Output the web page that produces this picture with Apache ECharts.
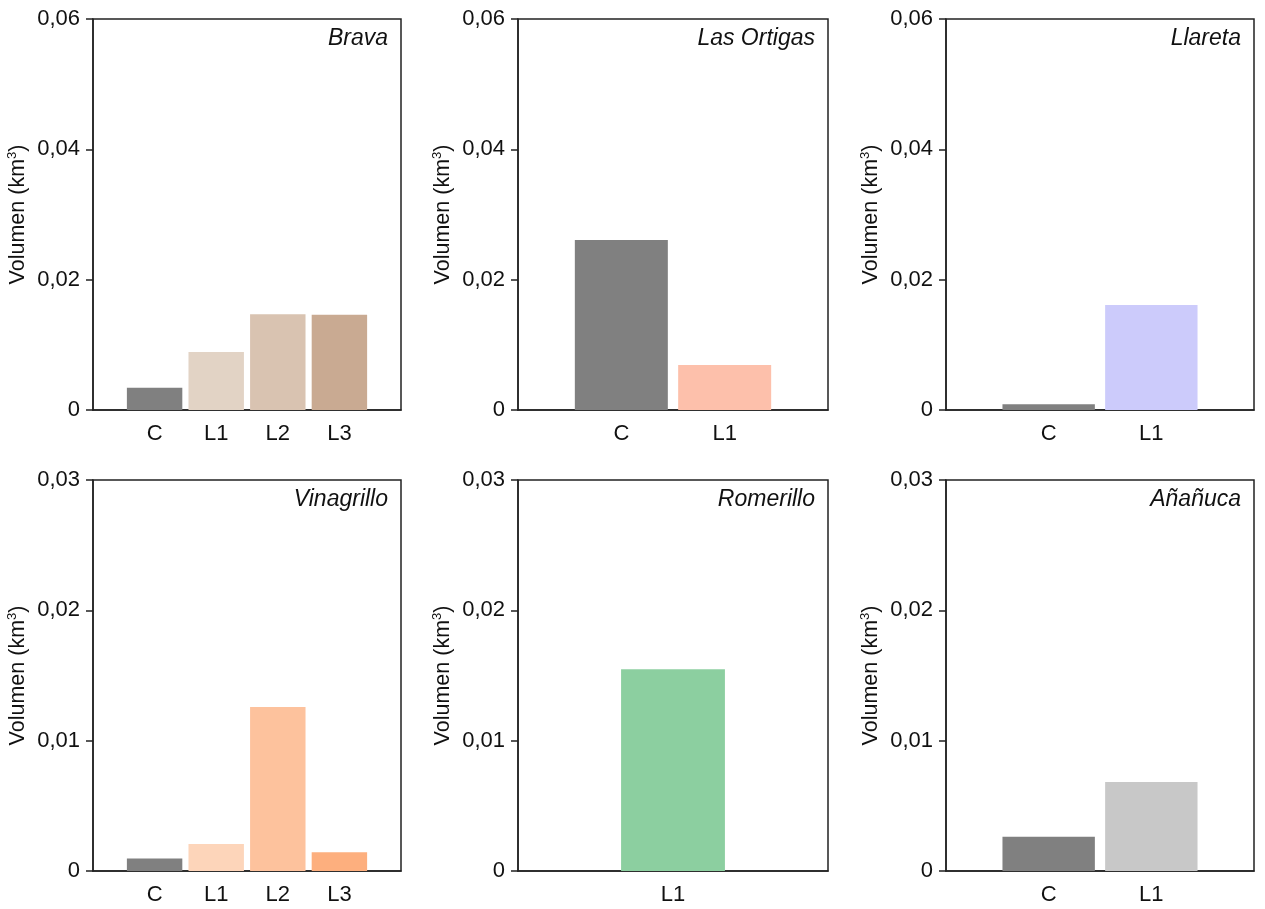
<!DOCTYPE html>
<html>
<head>
<meta charset="utf-8">
<title>Volumen por sitio</title>
<script src="https://cdn.jsdelivr.net/npm/echarts@6/dist/echarts.min.js"></script>
<style>
  html, body { margin: 0; padding: 0; background: #fff; }
  #chart { width: 1265px; height: 909px; }
</style>
</head>
<body>
<div id="chart"></div>
<script>
// Volumes (km³) per site and unit
const bravaCats = ['C', 'L1', 'L2', 'L3'];
const bravaVals = [0.0034, 0.0089, 0.0147, 0.0146];

const ortigasCats = ['C', 'L1'];
const ortigasVals = [0.0261, 0.0069];

const llaretaCats = ['C', 'L1'];
const llaretaVals = [0.0009, 0.0161];

const vinagrilloCats = ['C', 'L1', 'L2', 'L3'];
const vinagrilloVals = [0.00095, 0.00207, 0.01258, 0.00143];

const romerilloCats = ['L1'];
const romerilloVals = [0.01548];

const ananucaCats = ['C', 'L1'];
const ananucaVals = [0.00263, 0.00683];

const topTicks = [0, 0.02, 0.04, 0.06];
const bottomTicks = [0, 0.01, 0.02, 0.03];

// Bar fills per site
const bravaColors = ['#808080', '#e2d3c5', '#d9c3b1', '#c9aa92'];
const ortigasColors = ['#808080', '#fdc0ab'];
const llaretaColors = ['#808080', '#cccbfb'];
const vinagrilloColors = ['#808080', '#fdd5ba', '#fdc29d', '#fdaf7e'];
const romerilloColors = ['#8ccfa0'];
const ananucaColors = ['#808080', '#c8c8c8'];

const FONT = '"Liberation Sans", Arial, sans-serif';
const INK = '#111';

const panels = [
  { name: 'Brava',       cats: bravaCats,      vals: bravaVals,      colors: bravaColors,      ticks: topTicks,    col: 0, row: 0, bw: '90%' },
  { name: 'Las Ortigas', cats: ortigasCats,    vals: ortigasVals,    colors: ortigasColors,    ticks: topTicks,    col: 1, row: 0, bw: '90%' },
  { name: 'Llareta',     cats: llaretaCats,    vals: llaretaVals,    colors: llaretaColors,    ticks: topTicks,    col: 2, row: 0, bw: '90%' },
  { name: 'Vinagrillo',  cats: vinagrilloCats, vals: vinagrilloVals, colors: vinagrilloColors, ticks: bottomTicks, col: 0, row: 1, bw: '90%' },
  { name: 'Romerillo',   cats: romerilloCats,  vals: romerilloVals,  colors: romerilloColors,  ticks: bottomTicks, col: 1, row: 1, bw: '67%' },
  { name: 'Añañuca',     cats: ananucaCats,    vals: ananucaVals,    colors: ananucaColors,    ticks: bottomTicks, col: 2, row: 1, bw: '90%' }
];

const colLeft = [93, 518, 946];
const colWidth = [308, 310, 308];
const rowTop = [19, 480];
const plotHeight = 391;
const pageWidth = 1265;

const grids = [], xAxes = [], yAxes = [], series = [], titles = [];

panels.forEach((p, i) => {
  const left = colLeft[p.col];
  const width = colWidth[p.col];
  const top = rowTop[p.row];

  grids.push({
    left: left, top: top, width: width, height: plotHeight,
    show: true, borderColor: '#222', borderWidth: 1.5, backgroundColor: 'transparent'
  });

  // one empty slot either side of the categories
  const padded = [''].concat(p.cats, ['']);
  xAxes.push({
    type: 'category', gridIndex: i, data: padded, boundaryGap: false,
    axisLine: { show: true, lineStyle: { color: '#222', width: 1.5 } },
    axisTick: { show: false },
    axisLabel: { interval: 0, margin: 13, fontSize: 22, color: INK, fontFamily: FONT },
    splitLine: { show: false }
  });

  const step = p.ticks[1] - p.ticks[0];
  yAxes.push({
    type: 'value', gridIndex: i,
    min: p.ticks[0], max: p.ticks[p.ticks.length - 1], interval: step,
    name: 'Volumen (km{sup|3})', nameLocation: 'middle', nameGap: 63,
    nameTextStyle: {
      fontSize: 21.5, color: INK, fontFamily: FONT, lineHeight: 24,
      rich: { sup: { fontSize: 13, lineHeight: 14, verticalAlign: 'top', color: INK, fontFamily: FONT } }
    },
    axisLine: { show: true, lineStyle: { color: '#222', width: 1.5 } },
    axisTick: { show: true, inside: false, length: 7, lineStyle: { color: '#222', width: 1.5 } },
    axisLabel: {
      margin: 13, fontSize: 22, color: INK, fontFamily: FONT,
      formatter: v => (v === 0 ? '0' : v.toFixed(2).replace('.', ','))
    },
    splitLine: { show: false }
  });

  const data = [null].concat(p.vals.map((v, k) => ({ value: v, itemStyle: { color: p.colors[k] } })), [null]);
  series.push({
    type: 'bar', xAxisIndex: i, yAxisIndex: i, data: data,
    barWidth: p.bw, silent: true, animation: false
  });

  titles.push({
    text: p.name,
    right: pageWidth - (left + width - 13),
    top: top + 8,
    padding: 0,
    textStyle: { fontSize: 23, fontStyle: 'italic', fontWeight: 'normal', color: INK, fontFamily: FONT }
  });
});

const chart = echarts.init(document.getElementById('chart'), null, { renderer: 'canvas' });
chart.setOption({
  backgroundColor: '#fff',
  animation: false,
  title: titles,
  grid: grids,
  xAxis: xAxes,
  yAxis: yAxes,
  series: series
});
</script>
</body>
</html>
